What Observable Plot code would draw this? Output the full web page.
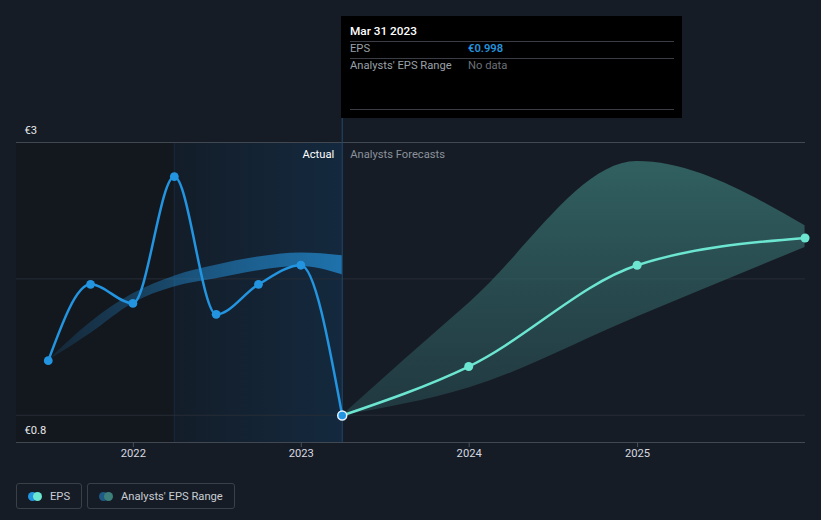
<!DOCTYPE html>
<html>
<head>
<meta charset="utf-8">
<script src="https://cdn.jsdelivr.net/npm/d3@7"></script>
<script src="https://cdn.jsdelivr.net/npm/@observablehq/plot@0.6"></script>
<style>
  html, body { margin: 0; padding: 0; background: #161c26; }
  body { font-family: Roboto, "Noto Sans", sans-serif; font-size: 11.2px; }
  #wrap { position: relative; width: 821px; height: 520px; overflow: hidden; }
  #tip { position: absolute; left: 341px; top: 16px; width: 341px; height: 102px; background: #000; }
  #tip .t { position: absolute; left: 9px; white-space: nowrap; }
  #tip .sep { position: absolute; left: 9px; width: 324px; height: 1px; background: #3a3e44; }
  #legend { position: absolute; left: 16px; top: 483px; display: flex; gap: 5px; }
  .lg { height: 26px; border: 1px solid #3a3f48; border-radius: 3px; display: flex; align-items: center; padding: 0 11px 0 11px; color: #c9cdd3; box-sizing: border-box; white-space: nowrap; }
  .sw { position: relative; width: 14px; height: 9px; margin-right: 8px; }
  .sw i { position: absolute; top: 0; width: 9px; height: 9px; border-radius: 50%; }
</style>
</head>
<body>
<div id="wrap">
  <div id="chart"></div>
  <div id="tip"></div>
  <div id="legend"></div>
</div>
<script>
// ---- data ----
const xDomain = ["2021-04-22", "2026-01-01"];
const yDomain = [0.8, 3];
const yGrid = [1, 2, 3];
const yLabelValues = [3, 0.8];
const xTicks = ["2022-01-01", "2023-01-01", "2024-01-01", "2025-01-01"];

const epsDates = ["2021-06-30", "2021-09-30", "2021-12-31", "2022-03-31", "2022-06-30", "2022-09-30", "2022-12-31", "2023-03-31"];
const epsValues = [1.40, 1.96, 1.82, 2.75, 1.74, 1.96, 2.10, 0.998];

const pastRangeLow  = [1.40, 1.60, 1.82, 1.94, 2.00, 2.06, 2.09, 2.03];
const pastRangeHigh = [1.40, 1.68, 1.89, 2.02, 2.10, 2.16, 2.19, 2.17];

const forecastDates = ["2023-03-31", "2023-12-31", "2024-12-31", "2025-12-31"];
const forecastValues = [0.998, 1.357, 2.10, 2.30];
const forecastLow  = [0.998, 1.20, 1.72, 2.23];
const forecastHigh = [0.998, 1.82, 2.86, 2.39];

const highlightStart = "2022-03-31";
const actualDate = "2023-03-31";
const periodLabels = ["Actual", "Analysts Forecasts"];

const tipDate = "Mar 31 2023";
const tipRows = [["EPS", "€0.998"], ["Analysts' EPS Range", "No data"]];
const legendItems = [
  { label: "EPS", colors: ["#2394df", "#6ce6d0"] },
  { label: "Analysts' EPS Range", colors: ["#1f5a86", "#3d7f7a"] }
];

// ---- build tables ----
const P = s => new Date(s);
const eps = epsDates.map((d, i) => ({ date: P(d), value: epsValues[i], low: pastRangeLow[i], high: pastRangeHigh[i] }));
const fc = forecastDates.map((d, i) => ({ date: P(d), value: forecastValues[i], low: forecastLow[i], high: forecastHigh[i] }));
const x0 = P(xDomain[0]), x1 = P(xDomain[1]);
const actual = P(actualDate);
const tipTop = 3.176; // where the cursor line meets the tooltip box

const svg = Plot.plot({
  width: 821,
  height: 480,
  marginLeft: 16,
  marginRight: 16,
  marginTop: 142,
  marginBottom: 38,
  x: { type: "utc", domain: [x0, x1] },
  y: { domain: yDomain, axis: null },
  style: { background: "transparent", color: "#d6dae0", fontFamily: "Roboto, sans-serif", fontSize: "11.2px" },
  marks: [
    // background regions
    Plot.rect([0], { x1: () => x0, x2: () => P(highlightStart), y1: yDomain[0], y2: yDomain[1], fill: "#13171e" }),
    Plot.rect([0], { x1: () => P(highlightStart), x2: () => actual, y1: yDomain[0], y2: yDomain[1], fill: "url(#hlGrad)" }),
    Plot.ruleX([P(highlightStart)], { y1: yDomain[0], y2: yDomain[1], stroke: "#1a2a3a" }),
    // grid
    Plot.ruleY(yGrid.filter(v => v !== yDomain[1]), { stroke: "#272d37" }),
    Plot.ruleY([yDomain[1], yDomain[0]], { stroke: "#424852" }),
    // cursor line
    Plot.ruleX([actual], { y1: yDomain[0], y2: tipTop, stroke: "#1f4b70" }),
    // x axis
    Plot.axisX({ ticks: xTicks.map(P), tickFormat: d3.utcFormat("%Y"), tickSize: 5, tickPadding: 2, stroke: "#4a505a", fill: "#d6dae0", label: null }),
    // y labels
    Plot.text(yLabelValues, { x: () => x0, y: d => d, text: d => "€" + d, textAnchor: "start", dx: 8, dy: -12, fill: "#e6e8eb" }),
    // period labels
    Plot.text([periodLabels[0]], { x: () => actual, y: () => yDomain[1], text: d => d, textAnchor: "end", dx: -8, dy: 12, fill: "#ffffff" }),
    Plot.text([periodLabels[1]], { x: () => actual, y: () => yDomain[1], text: d => d, textAnchor: "start", dx: 8, dy: 12, fill: "#8b919a" }),
    // past analyst range
    Plot.areaY(eps, { x: "date", y1: "low", y2: "high", curve: "monotone-x", fill: "url(#pastGrad)" }),
    // forecast range
    Plot.areaY(fc, { x: "date", y1: "low", y2: "high", curve: "monotone-x", fill: "url(#fcGrad)" }),
    // forecast line
    Plot.line(fc, { x: "date", y: "value", curve: "monotone-x", stroke: "#6ce6d0", strokeWidth: 2.5 }),
    Plot.dot(fc.slice(1), { x: "date", y: "value", r: 4.5, fill: "#6ce6d0" }),
    // EPS line
    Plot.line(eps, { x: "date", y: "value", curve: "monotone-x", stroke: "#2394df", strokeWidth: 2.5 }),
    Plot.dot(eps.slice(0, -1), { x: "date", y: "value", r: 4.4, fill: "#2394df" }),
    Plot.dot(eps.slice(-1), { x: "date", y: "value", r: 4.5, fill: "#2394df", stroke: "#e6f3ff", strokeWidth: 1.5 })
  ]
});

// gradients positioned through the scales
const xs = svg.scale("x"), ys = svg.scale("y");
const defs = d3.select(svg).insert("defs", ":first-child");
function grad(id, a, b, stops) {
  const g = defs.append("linearGradient").attr("id", id).attr("gradientUnits", "userSpaceOnUse")
    .attr("x1", a[0]).attr("y1", a[1]).attr("x2", b[0]).attr("y2", b[1]);
  stops.forEach(([o, c, op]) => g.append("stop").attr("offset", o).attr("stop-color", c).attr("stop-opacity", op));
}
grad("hlGrad", [xs.apply(P(highlightStart)), 0], [xs.apply(actual), 0],
  [[0, "#131d29", 1], [1, "#14293e", 1]]);
grad("pastGrad", [xs.apply(eps[0].date), 0], [xs.apply(actual), 0],
  [[0, "#2394df", 0.12], [0.5, "#2394df", 0.45], [1, "#2394df", 0.68]]);
grad("fcGrad", [0, ys.apply(d3.max(forecastHigh))], [0, ys.apply(forecastValues[0])],
  [[0, "#3d7d79", 0.7], [1, "#2e5c60", 0.45]]);

document.getElementById("chart").appendChild(svg);

// tooltip
const tip = document.getElementById("tip");
function add(html, css, cls) { const e = document.createElement("div"); e.className = cls; e.style.cssText = css; e.innerHTML = html; tip.appendChild(e); }
add(tipDate, "top:8px;color:#ffffff;font-weight:500;font-size:11.8px;", "t");
add("", "top:25px;", "sep");
add(tipRows[0][0], "top:26px;color:#9aa0a8;", "t");
add(tipRows[0][1], "top:26px;left:127px;color:#2394df;font-weight:600;", "t");
add("", "top:42px;", "sep");
add(tipRows[1][0], "top:43px;color:#9aa0a8;", "t");
add(tipRows[1][1], "top:43px;left:127px;color:#6b7078;", "t");
add("", "top:93px;", "sep");

// legend
const lg = document.getElementById("legend");
legendItems.forEach(it => {
  const b = document.createElement("div"); b.className = "lg";
  const sw = document.createElement("div"); sw.className = "sw";
  it.colors.forEach((c, i) => { const d = document.createElement("i"); d.style.left = (i * 5) + "px"; d.style.background = c; sw.appendChild(d); });
  b.appendChild(sw);
  const t = document.createElement("span"); t.textContent = it.label; b.appendChild(t);
  lg.appendChild(b);
});
</script>
</body>
</html>
